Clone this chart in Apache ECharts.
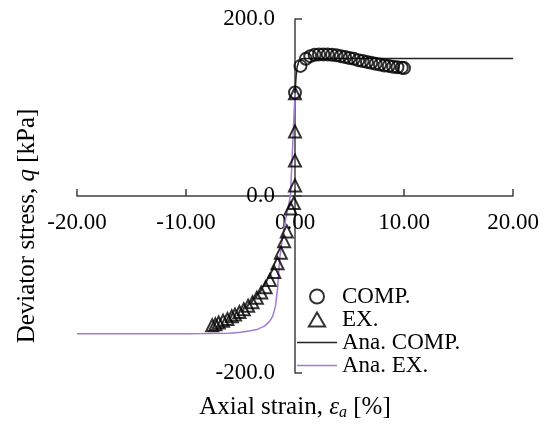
<!DOCTYPE html>
<html>
<head>
<meta charset="utf-8">
<script src="https://cdn.jsdelivr.net/npm/echarts@6/dist/echarts.min.js"></script>
<style>
  html, body { margin: 0; padding: 0; background: #fff; }
  #main { width: 548px; height: 425px; }
</style>
</head>
<body>
<div id="main"></div>
<script>
// test data, compression
var compStrain = [0, 0.5, 1.0, 1.4, 1.8, 2.2, 2.6, 3.0, 3.4, 3.8, 4.2, 4.6, 5.0, 5.4, 5.8, 6.2, 6.6, 7.0, 7.4, 7.8, 8.2, 8.6, 9.0, 9.4, 9.8, 10.0];
var compQ = [117, 147, 155, 158, 159.5, 160, 160, 160, 159.5, 159, 158, 157, 156, 155, 153.5, 152.5, 151.5, 150.5, 149.5, 148.5, 147.5, 147, 146, 145.5, 145, 144.5];

// test data, extension
var exStrain = [0, 0, 0, 0, -0.1, -0.4, -0.75, -1.0, -1.3, -1.6, -1.9, -2.3, -2.7, -3.1, -3.5, -3.9, -4.3, -4.7, -5.1, -5.5, -5.8, -6.2, -6.6, -7.0, -7.3, -7.6];
var exQ = [116, 73, 40, 12, -8, -14, -40, -51, -64, -76, -86, -95, -103, -109, -115, -120, -124, -128, -131, -134, -136, -139, -141, -143, -145, -146];

// analytical curves
var anaCompStrain = [0, 0.1, 0.2, 0.35, 0.6, 1.0, 20];
var anaCompQ = [116, 135, 146, 152, 155, 155.3, 155.3];
var anaExStrain = [0, -0.42, -1.0, -1.4, -1.6, -1.8, -2.05, -2.35, -2.8, -3.4, -4.2, -5, -6, -8, -10, -20];
var anaExQ = [116, 0, -35, -70, -105, -125, -136, -142, -147, -150.5, -152.5, -154, -155, -155.5, -155.7, -155.7];

var xTicks = [-20, 20, 10];
var yTicks = [-200, 200, 200];

function pairs(xs, ys) {
    return xs.map(function (x, i) { return [x, ys[i]]; });
}

var font = 'Liberation Serif';
var axisColor = '#404040';
var purple = '#a07cd4';
var fs = 23;      // tick labels, legend
var nameFs = 25;  // axis titles
var lineIcon = 'path://M0,0L40,0L40,1.6L0,1.6Z';
var triIcon = 'path://M7,0L14,12L0,12Z';

// grid box; the axes are shifted in to cross at (0, 0)
var gLeft = 77, gRight = 35, gTop = 19, gBottom = 52;
var plotW = 548 - gLeft - gRight, plotH = 425 - gTop - gBottom;
var xAxisShift = -plotH * (0 - yTicks[0]) / (yTicks[1] - yTicks[0]);
var yAxisShift = -plotW * (0 - xTicks[0]) / (xTicks[1] - xTicks[0]);

var myChart = echarts.init(document.getElementById('main'));

myChart.setOption({
    animation: false,
    textStyle: { fontFamily: font, color: '#000' },
    grid: { left: gLeft, right: gRight, top: gTop, bottom: gBottom, containLabel: false, outerBoundsMode: 'none' },
    legend: {
        orient: 'vertical',
        left: 297,
        top: 285,
        padding: 0,
        itemWidth: 40,
        itemHeight: 14,
        itemGap: 0,
        textStyle: { fontFamily: font, fontSize: fs, color: '#000' },
        data: [
            { name: 'COMP.', icon: 'circle', itemStyle: { color: '#fff', borderColor: '#000', borderWidth: 2 } },
            { name: 'EX.', icon: triIcon, itemStyle: { color: '#fff', borderColor: '#000', borderWidth: 2 } },
            { name: 'Ana. COMP.', icon: lineIcon, itemStyle: { color: '#222', borderWidth: 0 } },
            { name: 'Ana. EX.', icon: lineIcon, itemStyle: { color: purple, borderWidth: 0 } }
        ]
    },
    xAxis: {
        type: 'value',
        min: xTicks[0],
        max: xTicks[1],
        interval: xTicks[2],
        position: 'bottom',
        offset: xAxisShift,
        name: 'Axial strain, {i|ε}{s|a} [%]',
        nameLocation: 'middle',
        nameGap: 198,
        nameTextStyle: {
            fontFamily: font, fontSize: nameFs, color: '#000',
            rich: {
                i: { fontFamily: font, fontSize: nameFs, fontStyle: 'italic' },
                s: { fontFamily: font, fontSize: 16, fontStyle: 'italic', padding: [11, 0, 0, 0] }
            }
        },
        axisLine: { onZero: false, lineStyle: { color: axisColor, width: 1.5 } },
        axisTick: { inside: true, length: 7, lineStyle: { color: axisColor, width: 1.5 } },
        axisLabel: {
            fontFamily: font, fontSize: fs, color: '#000', margin: 15,
            formatter: function (v) { return v.toFixed(2); }
        },
        splitLine: { show: false }
    },
    yAxis: {
        type: 'value',
        min: yTicks[0],
        max: yTicks[1],
        interval: yTicks[2],
        position: 'left',
        offset: yAxisShift,
        name: 'Deviator stress, {i|q} [kPa]',
        nameLocation: 'middle',
        nameGap: 255,
        nameTextStyle: {
            fontFamily: font, fontSize: nameFs, color: '#000',
            padding: [0, 60, 0, 0],
            rich: { i: { fontFamily: font, fontSize: nameFs, fontStyle: 'italic' } }
        },
        axisLine: { onZero: false, lineStyle: { color: axisColor, width: 1.5 } },
        axisTick: { inside: true, length: 7, lineStyle: { color: axisColor, width: 1.5 } },
        axisLabel: {
            fontFamily: font, fontSize: fs, color: '#000', margin: 20,
            formatter: function (v) { return v.toFixed(1); }
        },
        splitLine: { show: false }
    },
    series: [
        {
            name: 'Ana. COMP.',
            type: 'line',
            data: pairs(anaCompStrain, anaCompQ),
            symbol: 'none',
            lineStyle: { color: '#222', width: 1.5 },
            itemStyle: { color: '#222' },
            z: 1
        },
        {
            name: 'Ana. EX.',
            type: 'line',
            data: pairs(anaExStrain, anaExQ),
            symbol: 'none',
            lineStyle: { color: purple, width: 1.5 },
            itemStyle: { color: purple },
            z: 1
        },
        {
            name: 'COMP.',
            type: 'scatter',
            data: pairs(compStrain, compQ),
            symbol: 'circle',
            symbolSize: 12,
            itemStyle: { color: 'rgba(255,255,255,0)', borderColor: '#000', borderWidth: 2 },
            z: 3
        },
        {
            name: 'EX.',
            type: 'scatter',
            data: pairs(exStrain, exQ),
            symbol: 'triangle',
            symbolSize: 12,
            itemStyle: { color: 'rgba(255,255,255,0)', borderColor: '#000', borderWidth: 2 },
            z: 3
        }
    ]
});
</script>
</body>
</html>
